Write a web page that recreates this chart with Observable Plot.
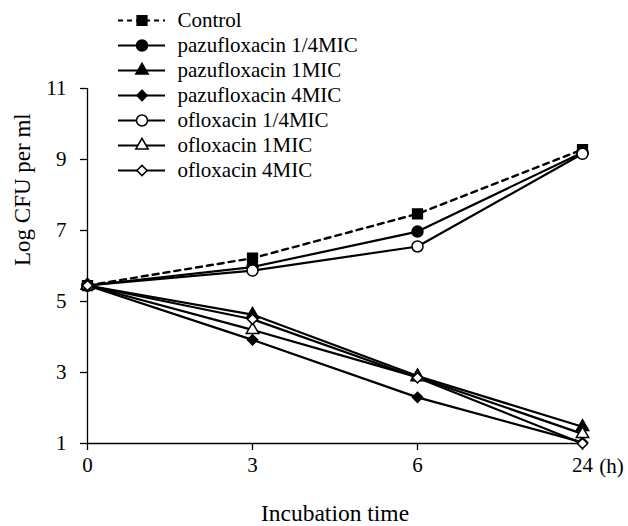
<!DOCTYPE html>
<html><head><meta charset="utf-8">
<script src="https://cdn.jsdelivr.net/npm/d3@7"></script>
<script src="https://cdn.jsdelivr.net/npm/@observablehq/plot@0.6"></script>
<style>
body{margin:0;background:#fff}
#wrap{position:relative;width:628px;height:526px;font-family:"Liberation Serif",serif}
#legend{position:absolute;left:0;top:0;pointer-events:none}
</style>
</head><body><div id="wrap"><div id="chart"></div><div id="legend"></div></div>
<script>
const times = ["0", "3", "6", "24"];
const yTicks = [1, 3, 5, 7, 9, 11];
const seriesNames = ["Control", "pazufloxacin 1/4MIC", "pazufloxacin 1MIC", "pazufloxacin 4MIC",
  "ofloxacin 1/4MIC", "ofloxacin 1MIC", "ofloxacin 4MIC"];
const symbols = ["square", "circle", "triangle", "diamond2", "circle", "triangle", "diamond2"];
const fills = ["black", "black", "black", "black", "white", "white", "white"];
const control = [5.45, 6.22, 7.47, 9.28];
const pazu025 = [5.45, 5.97, 6.97, 9.2];
const pazu1 = [5.45, 4.63, 2.9, 1.47];
const pazu4 = [5.45, 3.92, 2.3, 1.03];
const oflo025 = [5.45, 5.87, 6.55, 9.16];
const oflo1 = [5.45, 4.2, 2.87, 1.27];
const oflo4 = [5.45, 4.5, 2.85, 1.0];
const values = [control, pazu025, pazu1, pazu4, oflo025, oflo1, oflo4];

const rSize = {square: 5.5, circle: 5.5, triangle: 4.6, diamond2: 4.6};
const font = '"Liberation Serif", "Times New Roman", serif';

const rows = [];
seriesNames.forEach((s, i) => times.forEach((t, j) => rows.push({series: s, idx: i, time: t, value: values[i][j]})));

const marks = [
  Plot.ruleX([times[0]], {x: d => d, y1: yTicks[0], y2: yTicks[yTicks.length - 1], strokeWidth: 1.3}),
  Plot.ruleY([yTicks[0]], {y: d => d, strokeWidth: 1.3}),
  Plot.axisX({tickSize: 7, tickPadding: 7, fontSize: 21, label: null, strokeWidth: 1.3}),
  Plot.axisY({ticks: yTicks, tickSize: 7, tickPadding: 14, fontSize: 21, label: null, strokeWidth: 1.3}),
  Plot.text(["(h)"], {x: () => times[3], frameAnchor: "bottom", dx: 29, dy: 23, fontSize: 21, lineAnchor: "middle"}),
  Plot.text(["Incubation time"], {frameAnchor: "bottom", dy: 70, fontSize: 23.5, lineAnchor: "middle"}),
  Plot.text(["Log CFU per ml"], {frameAnchor: "left", dx: -65, rotate: -90, fontSize: 23, lineAnchor: "middle"}),
  Plot.line(rows.filter(d => d.idx === 0), {x: "time", y: "value", strokeWidth: 2.4, strokeDasharray: "6,5"}),
  Plot.line(rows.filter(d => d.idx > 0), {x: "time", y: "value", z: "series", strokeWidth: 2.2})
];
seriesNames.forEach((s, i) => {
  marks.push(Plot.dot(rows.filter(d => d.idx === i), {x: "time", y: "value", symbol: () => symbols[i],
    r: rSize[symbols[i]], fill: fills[i], stroke: "black", strokeWidth: 1.5}));
});

const chart = Plot.plot({
  width: 628, height: 526,
  marginLeft: 87, marginRight: 46, marginTop: 88, marginBottom: 83,
  x: {type: "point", domain: times, padding: 0},
  y: {domain: [1, 11]},
  symbol: {type: "identity"},
  style: {fontFamily: font, fontSize: "21px", color: "black", background: "white"},
  marks
});
document.getElementById("chart").appendChild(chart);

const legendMarks = [
  Plot.ruleY([seriesNames[0]], {y: d => d, x1: 0, x2: 1, strokeWidth: 2.2, strokeDasharray: "5,4"}),
  Plot.ruleY(seriesNames.slice(1), {y: d => d, x1: 0, x2: 1, strokeWidth: 2.2}),
  Plot.text(seriesNames, {y: d => d, x: 1, dx: 12, textAnchor: "start", fontSize: 21, lineAnchor: "middle"})
];
seriesNames.forEach((s, i) => {
  legendMarks.push(Plot.dot([s], {y: d => d, x: 0.5, symbol: () => symbols[i], r: rSize[symbols[i]],
    fill: fills[i], stroke: "black", strokeWidth: 1.5}));
});
const legend = Plot.plot({
  width: 420, height: 190,
  marginLeft: 118, marginRight: 255, marginTop: 17, marginBottom: 18,
  x: {domain: [0, 1], axis: null},
  y: {type: "point", domain: seriesNames, padding: 0, axis: null},
  symbol: {type: "identity"},
  style: {fontFamily: font, fontSize: "21px", color: "black", background: "transparent", overflow: "visible"},
  marks: legendMarks
});
document.getElementById("legend").appendChild(legend);
</script>
</body></html>
